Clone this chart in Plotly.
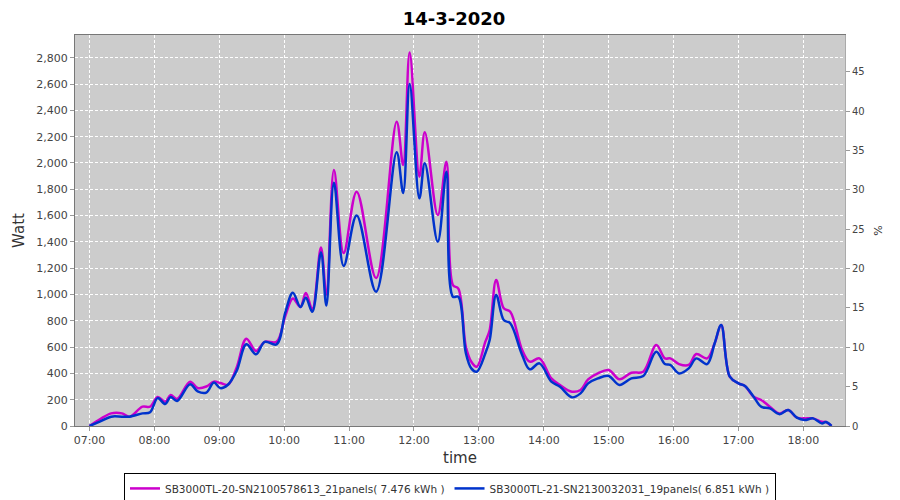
import pandas as pd
import plotly.graph_objects as go

# minutes after 07:00 for each read-off point
minutes = [0, 10, 20, 30, 37, 49, 56, 63, 70, 75, 81, 93, 100, 108, 115, 121, 128, 136, 145, 154,
           162, 173, 181, 188, 195, 200, 206, 214, 219, 226, 235, 247, 265, 284, 290, 296, 305, 310,
           322, 330, 336, 341, 348, 353, 358, 366, 370, 376, 383, 389, 400, 407, 416, 427, 435, 446,
           454, 461, 470, 480, 490, 501, 512, 524, 532, 537, 545, 554, 561, 571, 578, 584, 592, 600,
           606, 614, 621, 629, 638, 646, 654, 661, 669, 677, 681, 686]

sb20_watt = [0, 53, 96, 96, 71, 147, 147, 220, 185, 236, 206, 337, 289, 300, 337, 327, 314, 443, 664, 570,
             640, 640, 836, 970, 905, 1012, 887, 1357, 999, 1947, 1315, 1782, 1125, 2314, 1985, 2840, 1896, 2233,
             1604, 2010, 1072, 1045, 603, 489, 451, 641, 730, 1110, 895, 869, 578, 489, 514, 362, 312, 261,
             274, 355, 400, 426, 355, 405, 413, 616, 514, 514, 471, 464, 547, 514, 629, 768, 375, 324,
             304, 223, 198, 147, 96, 122, 63, 58, 58, 32, 30, 0]

sb21_watt = [0, 35, 71, 71, 71, 96, 105, 212, 167, 220, 190, 318, 263, 254, 330, 288, 314, 418, 621, 545,
             640, 621, 862, 1013, 905, 976, 868, 1320, 916, 1850, 1217, 1600, 1021, 2081, 1772, 2600, 1731, 1997,
             1401, 1934, 983, 983, 553, 438, 413, 553, 654, 996, 806, 781, 540, 431, 476, 337, 299, 218,
             248, 324, 362, 380, 312, 362, 380, 565, 471, 464, 400, 438, 514, 471, 629, 768, 375, 324,
             304, 223, 147, 134, 90, 122, 63, 45, 58, 20, 30, 0]

names = ["SB3000TL-20-SN2100578613_21panels( 7.476 kWh )",
         "SB3000TL-21-SN2130032031_19panels( 6.851 kWh )"]

times = pd.Timestamp("2020-03-14 07:00") + pd.to_timedelta(minutes, unit="m")

fig = go.Figure()
fig.add_trace(go.Scatter(x=times, y=sb20_watt, name=names[0], mode="lines",
                         line=dict(color="#cc00cc", width=2.5, shape="spline")))
fig.add_trace(go.Scatter(x=times, y=sb21_watt, name=names[1], mode="lines",
                         line=dict(color="#0033cc", width=2.5, shape="spline")))
# empty trace so the % axis gets drawn
fig.add_trace(go.Scatter(x=[times[0]], y=[None], yaxis="y2", showlegend=False, hoverinfo="skip"))

tick_font = dict(family="DejaVu Sans", size=11, color="#444444")

# page body has an 8px margin, so the figure is a bit smaller than the window
fig.update_layout(
    width=892, height=492,
    margin=dict(l=67, r=55, t=27, b=74, autoexpand=False),
    paper_bgcolor="white",
    plot_bgcolor="#cccccc",
    title=dict(text="<b>14-3-2020</b>", x=0.5, xanchor="center", y=0.978, yanchor="middle",
               font=dict(family="DejaVu Sans", size=18, color="black")),
    xaxis=dict(
        type="date", automargin=False,
        range=["2020-03-14 06:46:36", "2020-03-14 18:38:30"],
        tick0="2020-03-14 07:00", dtick=3600000, tickformat="%H:%M",
        showgrid=True, gridcolor="white", griddash="3px,2px", gridwidth=1,
        showline=True, linecolor="#777777", mirror=True,
        ticks="outside", ticklen=4, tickcolor="#999999",
        tickfont=tick_font,
        title=dict(text="time", font=dict(family="DejaVu Sans", size=15, color="#333333"), standoff=6),
        zeroline=False,
    ),
    yaxis=dict(
        range=[0, 2973], dtick=200, tickformat=",", automargin=False,
        showgrid=True, gridcolor="white", griddash="3px,2px", gridwidth=1,
        showline=True, linecolor="#777777", mirror=True,
        ticks="outside", ticklen=4, tickcolor="#999999",
        tickfont=tick_font,
        title=dict(text="Watt", font=dict(family="DejaVu Sans", size=15, color="#333333"), standoff=8),
        zeroline=False,
    ),
    yaxis2=dict(
        overlaying="y", side="right", range=[0, 49.7], dtick=5, automargin=False,
        showgrid=False, zeroline=False,
        showline=True, linecolor="#aaaaaa",
        ticks="outside", ticklen=4, tickcolor="#999999",
        tickfont=dict(family="DejaVu Sans", size=10, color="#444444"),
        title=dict(text="%", font=dict(family="DejaVu Sans", size=11, color="#333333"), standoff=10),
    ),
    legend=dict(
        orientation="h", x=0.487, xanchor="center", y=-0.12, yanchor="top",
        bordercolor="black", borderwidth=1, bgcolor="white",
        font=dict(family="DejaVu Sans", size=10.5, color="#333333"),
        itemwidth=30,
    ),
)

fig.write_html("out.html")
